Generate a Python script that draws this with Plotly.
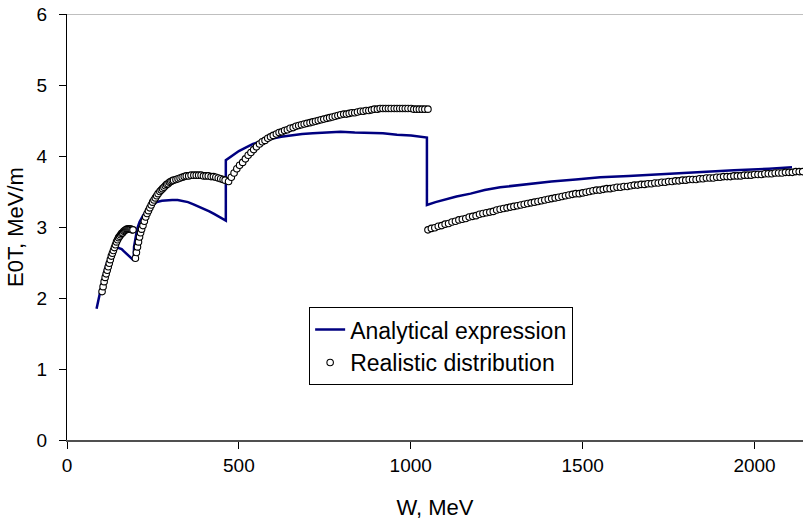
import plotly.graph_objects as go

# ---- Analytical expression (continuous line, with jumps) ----
analytical_w = [86, 92, 98, 104, 110, 116, 123, 129, 135, 141, 147, 153, 159, 165, 172, 178, 184, 190, 194,
                195, 199, 204, 211, 221, 233, 247, 261, 276, 291, 306, 322, 337, 352, 368, 383, 398, 414, 429, 444, 462,
                462, 480, 500, 521, 541, 562, 582, 602, 623, 653, 684, 715, 756, 796, 837, 878, 919, 960, 1001, 1047,
                1047, 1072, 1103, 1133, 1174, 1215, 1260, 1327, 1409, 1480, 1551, 1634, 1736, 1841, 1940, 2042, 2109]
analytical_e = [1.85, 1.99, 2.13, 2.27, 2.39, 2.49, 2.57, 2.63, 2.67, 2.70, 2.71, 2.70, 2.69, 2.66, 2.63, 2.60, 2.57, 2.55, 2.53,
                2.72, 2.86, 2.97, 3.07, 3.16, 3.24, 3.30, 3.35, 3.37, 3.38, 3.38, 3.38, 3.37, 3.35, 3.32, 3.29, 3.26, 3.22, 3.18, 3.14, 3.09,
                3.94, 4.00, 4.07, 4.12, 4.17, 4.20, 4.23, 4.25, 4.27, 4.29, 4.31, 4.32, 4.33, 4.34, 4.33, 4.33, 4.32, 4.30, 4.29, 4.26,
                3.31, 3.35, 3.39, 3.43, 3.47, 3.52, 3.56, 3.60, 3.64, 3.67, 3.70, 3.72, 3.75, 3.78, 3.80, 3.82, 3.84]

# ---- Realistic distribution (circles), four sections ----
real_w1 = [102, 105, 108, 111, 114, 117, 120, 123, 126, 129, 132, 135, 138, 141, 144, 147, 150, 153, 156, 159,
           162, 165, 168, 171, 174, 177, 180, 183, 186, 189, 192]
real_e1 = [2.09, 2.16, 2.23, 2.29, 2.34, 2.39, 2.44, 2.49, 2.54, 2.59, 2.63, 2.67, 2.71, 2.75, 2.79, 2.82, 2.85, 2.87, 2.89, 2.91,
           2.92, 2.94, 2.95, 2.96, 2.97, 2.97, 2.97, 2.97, 2.97, 2.96, 2.96]

real_w2 = [199, 202, 205, 208, 211, 214, 217, 221, 225, 229, 233, 237, 241, 245, 249, 253, 257, 261, 265, 270,
           274, 278, 282, 286, 290, 294, 298, 302, 306, 310, 317, 323, 329, 335, 341, 347, 354, 361, 369, 376,
           383, 390, 397, 404, 411, 419, 426, 433, 440, 447, 454, 460]
real_e2 = [2.56, 2.64, 2.72, 2.79, 2.86, 2.92, 2.97, 3.02, 3.08, 3.14, 3.19, 3.23, 3.27, 3.31, 3.35, 3.38, 3.41, 3.44, 3.47, 3.50,
           3.52, 3.54, 3.56, 3.58, 3.60, 3.61, 3.63, 3.64, 3.65, 3.66, 3.67, 3.68, 3.69, 3.70, 3.71, 3.72, 3.72, 3.73, 3.73, 3.73,
           3.73, 3.73, 3.72, 3.72, 3.72, 3.71, 3.71, 3.70, 3.69, 3.68, 3.67, 3.66]

real_w3 = [470, 478, 486, 494, 502, 511, 519, 527, 535, 543, 551, 560, 568, 576, 584, 592, 600, 609, 617, 625,
           633, 641, 649, 658, 666, 674, 682, 690, 698, 707, 715, 723, 731, 739, 747, 756, 764, 772, 780, 788,
           796, 805, 813, 821, 829, 837, 845, 854, 862, 870, 878, 886, 894, 903, 911, 919, 927, 935, 943, 952,
           960, 968, 976, 984, 992, 1001, 1009, 1017, 1025, 1033, 1041, 1050]
real_e3 = [3.64, 3.70, 3.76, 3.82, 3.87, 3.91, 3.96, 4.01, 4.05, 4.09, 4.13, 4.17, 4.20, 4.22, 4.25, 4.27, 4.29, 4.31, 4.33, 4.34,
           4.36, 4.37, 4.39, 4.40, 4.42, 4.43, 4.44, 4.45, 4.46, 4.47, 4.48, 4.49, 4.50, 4.51, 4.52, 4.53, 4.54, 4.55, 4.56, 4.57,
           4.58, 4.59, 4.59, 4.60, 4.61, 4.61, 4.62, 4.63, 4.63, 4.64, 4.64, 4.65, 4.66, 4.66, 4.67, 4.67, 4.67, 4.67, 4.67, 4.67,
           4.67, 4.67, 4.67, 4.67, 4.67, 4.67, 4.66, 4.66, 4.66, 4.66, 4.66, 4.66]

real_w4 = [1050, 1060, 1070, 1080, 1090, 1100, 1110, 1120, 1130, 1140, 1150, 1160, 1170, 1180, 1190, 1200, 1210, 1220, 1230, 1240,
           1250, 1260, 1270, 1280, 1290, 1300, 1310, 1320, 1330, 1340, 1350, 1360, 1370, 1380, 1390, 1400, 1410, 1420, 1430, 1440,
           1450, 1460, 1470, 1480, 1490, 1500, 1510, 1520, 1530, 1540, 1550, 1560, 1570, 1580, 1590, 1600, 1610, 1620, 1630, 1640,
           1650, 1660, 1670, 1680, 1690, 1700, 1710, 1720, 1730, 1740, 1750, 1760, 1770, 1780, 1790, 1800, 1810, 1820, 1830, 1840,
           1850, 1860, 1870, 1880, 1890, 1900, 1910, 1920, 1930, 1940, 1950, 1960, 1970, 1980, 1990, 2000, 2010, 2020, 2030, 2040,
           2050, 2060, 2070, 2080, 2090, 2100, 2110, 2120, 2130, 2140]
real_e4 = [2.96, 2.98, 2.99, 3.01, 3.02, 3.04, 3.05, 3.07, 3.08, 3.10, 3.11, 3.12, 3.14, 3.15, 3.16, 3.18, 3.19, 3.20, 3.21, 3.22,
           3.24, 3.25, 3.26, 3.27, 3.28, 3.29, 3.30, 3.31, 3.32, 3.33, 3.34, 3.35, 3.36, 3.37, 3.38, 3.39, 3.40, 3.41, 3.42, 3.43,
           3.44, 3.45, 3.46, 3.47, 3.47, 3.48, 3.49, 3.50, 3.51, 3.52, 3.52, 3.53, 3.54, 3.54, 3.55, 3.56, 3.56, 3.57, 3.57, 3.58,
           3.59, 3.59, 3.60, 3.60, 3.61, 3.61, 3.62, 3.62, 3.63, 3.63, 3.64, 3.64, 3.65, 3.65, 3.66, 3.66, 3.67, 3.67, 3.67, 3.68,
           3.68, 3.69, 3.69, 3.69, 3.70, 3.70, 3.71, 3.71, 3.71, 3.72, 3.72, 3.72, 3.73, 3.73, 3.73, 3.74, 3.74, 3.74, 3.75, 3.75,
           3.75, 3.76, 3.76, 3.76, 3.77, 3.77, 3.77, 3.78, 3.78, 3.78]

x_ticks = [0, 500, 1000, 1500, 2000]
y_ticks = [0, 1, 2, 3, 4, 5, 6]
x_range = [0, 2141]
y_range = [0, 6]

FONT = "Liberation Sans, Arial, sans-serif"

real_w = real_w1 + real_w2 + real_w3 + real_w4
real_e = real_e1 + real_e2 + real_e3 + real_e4

fig = go.Figure()
fig.add_trace(go.Scatter(
    x=analytical_w, y=analytical_e, mode="lines", name="Analytical expression",
    line=dict(color="#000080", width=2.5),
))
fig.add_trace(go.Scatter(
    x=real_w, y=real_e, mode="markers", name="Realistic distribution",
    marker=dict(symbol="circle", size=6.5, color="white", line=dict(color="black", width=1.1)),
))

fig.update_layout(
    width=803, height=524,
    margin=dict(l=67, r=0, t=14, b=84, pad=0),
    paper_bgcolor="white", plot_bgcolor="white",
    font=dict(family=FONT, size=20, color="black"),
    showlegend=True,
    legend=dict(
        x=0.329, y=0.312, xanchor="left", yanchor="top",
        bgcolor="white", bordercolor="black", borderwidth=1,
        font=dict(family=FONT, size=23, color="black"),
        tracegroupgap=0, itemwidth=30,
    ),
    xaxis=dict(
        range=x_range, tickvals=x_ticks, ticktext=[str(v) for v in x_ticks],
        ticks="outside", ticklen=7, tickwidth=1, tickcolor="black",
        showline=True, linecolor="#505050", linewidth=1.5,
        showgrid=False, zeroline=False,
        tickfont=dict(family=FONT, size=19),
        title=dict(text="W, MeV", font=dict(family=FONT, size=22), standoff=25),
    ),
    yaxis=dict(
        range=y_range, tickvals=y_ticks,
        ticks="outside", ticklen=7, tickwidth=1, tickcolor="black",
        showline=True, linecolor="black", linewidth=1,
        showgrid=False, zeroline=False,
        ticklabelstandoff=8,
        tickfont=dict(family=FONT, size=19),
        title=dict(text="E0T, MeV/m", font=dict(family=FONT, size=22), standoff=6),
    ),
    xaxis2=dict(
        overlaying="x", anchor="y", side="bottom", range=x_range, tickvals=x_ticks,
        ticks="inside", ticklen=7, tickwidth=1, tickcolor="black",
        showticklabels=False, showline=False, showgrid=False, zeroline=False,
    ),
    yaxis2=dict(
        overlaying="y", anchor="x", side="left", range=y_range, tickvals=y_ticks,
        ticks="inside", ticklen=7, tickwidth=1, tickcolor="black",
        showticklabels=False, showline=False, showgrid=False, zeroline=False,
    ),
    shapes=[dict(type="line", xref="paper", yref="y", x0=0, x1=1, y0=6, y1=6,
                 line=dict(color="#808080", width=1))],
)

fig.write_html("out.html")
